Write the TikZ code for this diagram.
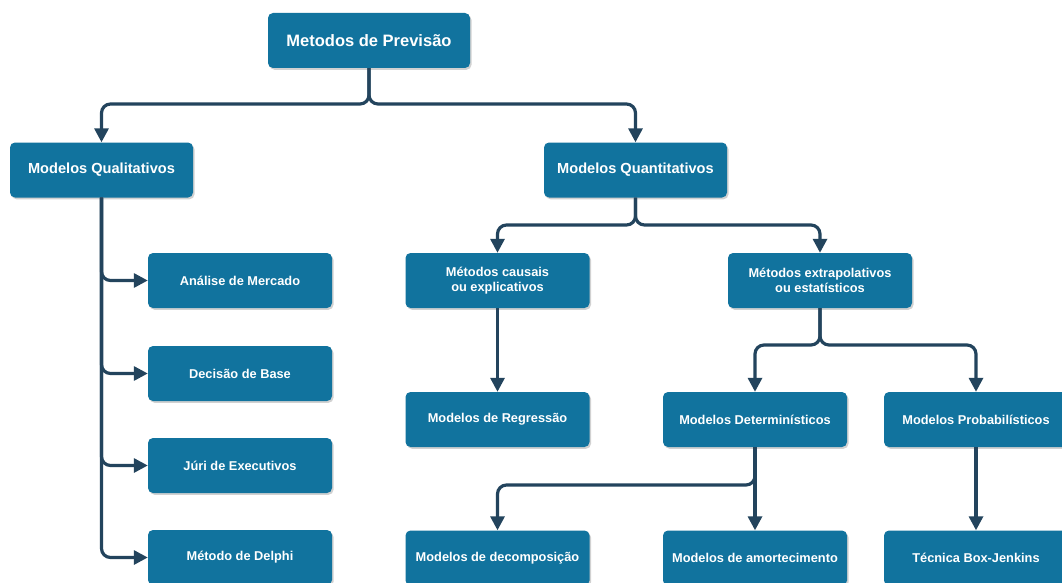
\documentclass[tikz,border=0pt]{standalone}
\usepackage{fontspec}
\setmainfont{Liberation Sans}
\usetikzlibrary{arrows.meta,shadows}
\definecolor{boxc}{RGB}{17,115,158}
\definecolor{linec}{RGB}{35,68,93}
\tikzset{
  box/.style={rectangle, rounded corners=5pt, fill=boxc, text=white, font=\bfseries\fontsize{12.8}{15}\selectfont,
    minimum width=184pt, minimum height=55pt, inner sep=0pt, align=center,
    drop shadow={shadow xshift=1.5pt, shadow yshift=-1.8pt, fill=black, opacity=0.18}},
  bigbox/.style={box, font=\bfseries\fontsize{14.6}{17}\selectfont, minimum width=183pt},
  titlebox/.style={box, font=\bfseries\fontsize{16.5}{19}\selectfont, minimum width=202pt},
  conn/.style={draw=linec, line width=3.2pt, rounded corners=9pt, -{Triangle[width=14pt,length=14pt]}}
}
\begin{document}
\begin{tikzpicture}[x=1pt,y=-1pt]
\useasboundingbox (0,0) rectangle (1062,583);
\clip (0,0) rectangle (1062,583);
\fill[white] (0,0) rectangle (1062,583);
% nodes
\node[titlebox] (top) at (369,40.5) {Metodos de Previsão};
\node[bigbox] (qual) at (101.5,170) {Modelos Qualitativos};
\node[bigbox] (quant) at (635.5,170) {Modelos Quantitativos};
\node[box] (ana) at (240,280.5) {Análise de Mercado};
\node[box] (dec) at (240,373.5) {Decisão de Base};
\node[box] (juri) at (240,465.5) {Júri de Executivos};
\node[box] (delphi) at (240,557.5) {Método de Delphi};
\node[box] (caus) at (497.5,280.5) {Métodos causais\\ou explicativos};
\node[box] (extr) at (820,280.5) {Métodos extrapolativos\\ou estatísticos};
\node[box] (regr) at (497.5,419.5) {Modelos de Regressão};
\node[box] (det) at (755,419.5) {Modelos Determinísticos};
\node[box] (prob) at (976,419.5) {Modelos Probabilísticos};
\node[box] (decomp) at (497.5,558) {Modelos de decomposição};
\node[box] (amort) at (755,558) {Modelos de amortecimento};
\node[box] (boxj) at (976,558) {Técnica Box-Jenkins};
% connectors
\draw[conn] (top.south) -- (top.south |- 0,104) -| (qual.north);
\draw[conn] (top.south) -- (top.south |- 0,104) -| (quant.north);
\draw[conn] (qual.south) |- (ana.west);
\draw[conn] (qual.south) |- (dec.west);
\draw[conn] (qual.south) |- (juri.west);
\draw[conn] (qual.south) |- (delphi.west);
\draw[conn] (quant.south) -- (quant.south |- 0,225) -| (caus.north);
\draw[conn] (quant.south) -- (quant.south |- 0,225) -| (extr.north);
\draw[conn] (caus.south) -- (regr.north);
\draw[conn] (extr.south) -- (extr.south |- 0,345) -| (det.north);
\draw[conn] (extr.south) -- (extr.south |- 0,345) -| (prob.north);
\draw[conn] (det.south) -- (det.south |- 0,485) -| (decomp.north);
\draw[conn] (det.south) -- (amort.north);
\draw[conn] (prob.south) -- (boxj.north);
\end{tikzpicture}
\end{document}
